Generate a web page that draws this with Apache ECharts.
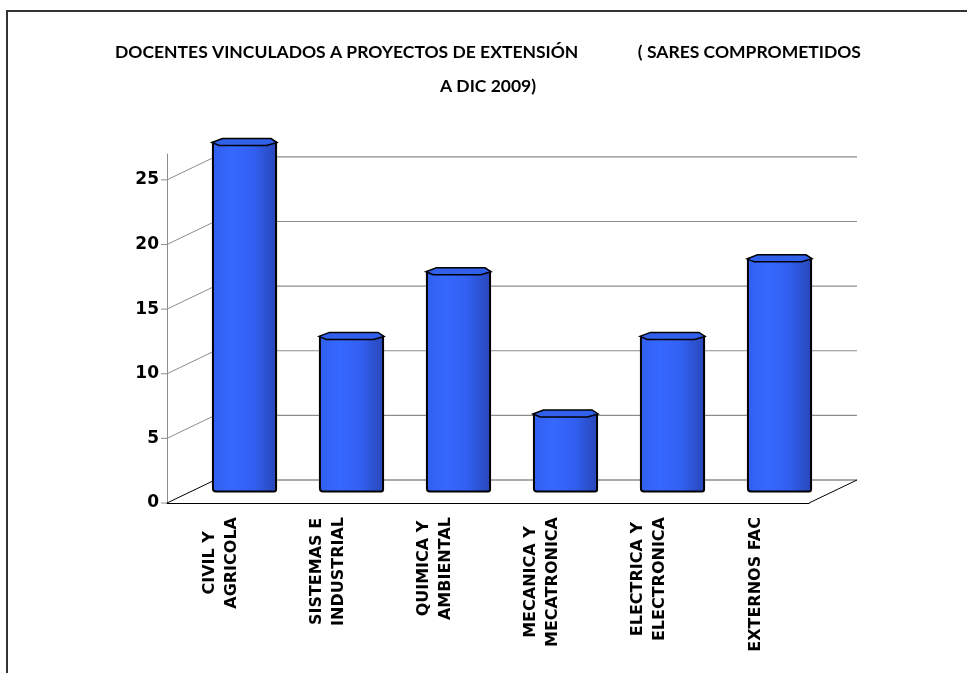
<!DOCTYPE html>
<html>
<head>
<meta charset="utf-8">
<script src="https://cdn.jsdelivr.net/npm/echarts@6/dist/echarts.min.js"></script>
<style>
  html, body { margin: 0; padding: 0; background: #fff; }
  #main { width: 967px; height: 673px; }
</style>
</head>
<body>
<div id="main"></div>
<script>
// datos
const categories = ['CIVIL Y\nAGRICOLA', 'SISTEMAS E\nINDUSTRIAL', 'QUIMICA Y\nAMBIENTAL', 'MECANICA Y\nMECATRONICA', 'ELECTRICA Y\nELECTRONICA', 'EXTERNOS FAC']
const docentes = [27, 12, 17, 6, 12, 18]
const yTicks = [0, 5, 10, 15, 20, 25]
const titulo = 'DOCENTES VINCULADOS A PROYECTOS DE EXTENSIÓN              ( SARES COMPROMETIDOS\nA DIC 2009)'

// profundidad del efecto 3D (px)
const DX = 48
const DY = -23

const chart = echarts.init(document.getElementById('main'))

// paredes: ticks, diagonales laterales y lineas del fondo
function renderPared (params, api) {
  const v = api.value(1)
  const p = api.coord([0, v])
  const bw = api.size([1, 0])[0]
  const xl = p[0] - bw / 2
  const xr = api.coord([categories.length - 1, v])[0] + bw / 2
  const y = p[1]
  const gris = '#8c8c8c'
  const kids = [
    { type: 'line', shape: { x1: xl - 6, y1: y, x2: xl, y2: y }, style: { stroke: gris, lineWidth: 1 } },
    { type: 'line', shape: { x1: xl, y1: y, x2: xl + DX, y2: y + DY }, style: { stroke: v === 0 ? '#000' : gris, lineWidth: 1 } },
    { type: 'line', shape: { x1: xl + DX, y1: y + DY, x2: xr + DX, y2: y + DY }, style: { stroke: v === 0 ? '#555' : gris, lineWidth: 1.2 } }
  ]
  if (v === 0) {
    kids.push({ type: 'line', shape: { x1: xr, y1: y, x2: xr + DX, y2: y + DY }, style: { stroke: '#000', lineWidth: 1 } })
  }
  return { type: 'group', children: kids }
}

// barras con cara superior
function renderBarra (params, api) {
  const i = api.value(0)
  const base = api.coord([i, 0])
  const top = api.coord([i, api.value(1)])
  const bw = api.size([1, 0])[0]
  const w = bw * 0.59
  const x0 = base[0] - w / 2 + DX / 2
  const x1 = x0 + w
  const yb = base[1] + DY / 2
  const yt = top[1] + DY / 2
  const grad = new echarts.graphic.LinearGradient(0, 0, 1, 0, [
    { offset: 0, color: '#2f5fec' },
    { offset: 0.3, color: '#3668ff' },
    { offset: 0.65, color: '#315ff0' },
    { offset: 1, color: '#2846b6' }
  ])
  return {
    type: 'group',
    children: [
      {
        type: 'rect',
        shape: { x: x0, y: yt, width: w, height: yb - yt, r: [0, 0, 2, 3] },
        style: { fill: grad, stroke: '#000', lineWidth: 2 }
      },
      {
        type: 'polygon',
        shape: {
          points: [
            [x0 - 1, yt], [x0 + w * 0.15, yt - 4], [x1 - w * 0.08, yt - 4],
            [x1 + 1, yt], [x1 - w * 0.15, yt + 3], [x0 + w * 0.1, yt + 3]
          ]
        },
        style: { fill: '#3160ea', stroke: '#000', lineWidth: 1.5 }
      }
    ]
  }
}

chart.setOption({
  animation: false,
  title: {
    text: titulo,
    left: 483,
    top: 30,
    textAlign: 'center',
    textStyle: {
      fontFamily: 'Lato',
      fontWeight: 'bold',
      fontSize: 17.5,
      lineHeight: 34,
      color: '#000'
    }
  },
  graphic: [{
    // marco del grafico
    type: 'rect',
    shape: { x: 7, y: 11, width: 1000, height: 700 },
    style: { fill: null, stroke: '#333', lineWidth: 2 },
    silent: true
  }],
  grid: { left: 167, right: 158, top: 154, bottom: 170 },
  xAxis: {
    type: 'category',
    data: categories,
    axisLine: { lineStyle: { color: '#000', width: 1 } },
    axisTick: { length: 6, lineStyle: { color: '#8c8c8c' } },
    axisLabel: {
      rotate: 90,
      margin: 14,
      interval: 0,
      formatter: v => v.split('\n').map(s => '{c|' + s + '}').join('\n'),
      rich: {
        c: {
          align: 'center',
          fontFamily: 'DejaVu Sans',
          fontWeight: 'bold',
          fontSize: 16,
          lineHeight: 22,
          color: '#000'
        }
      }
    }
  },
  yAxis: {
    type: 'value',
    min: 0,
    max: 27,
    interval: 5,
    axisLine: { show: true, lineStyle: { color: '#8c8c8c' } },
    axisTick: { show: false },
    splitLine: { show: false },
    axisLabel: {
      showMaxLabel: false,
      margin: 8,
      fontFamily: 'DejaVu Sans',
      fontWeight: 'bold',
      fontSize: 17,
      color: '#000'
    }
  },
  series: [
    {
      type: 'custom',
      name: 'pared',
      clip: false,
      z: 1,
      silent: true,
      renderItem: renderPared,
      encode: { x: 0, y: 1 },
      data: yTicks.map(v => [0, v])
    },
    {
      type: 'custom',
      name: 'Docentes',
      clip: false,
      z: 3,
      renderItem: renderBarra,
      encode: { x: 0, y: 1 },
      data: docentes.map((v, i) => [i, v])
    }
  ]
})
</script>
</body>
</html>
